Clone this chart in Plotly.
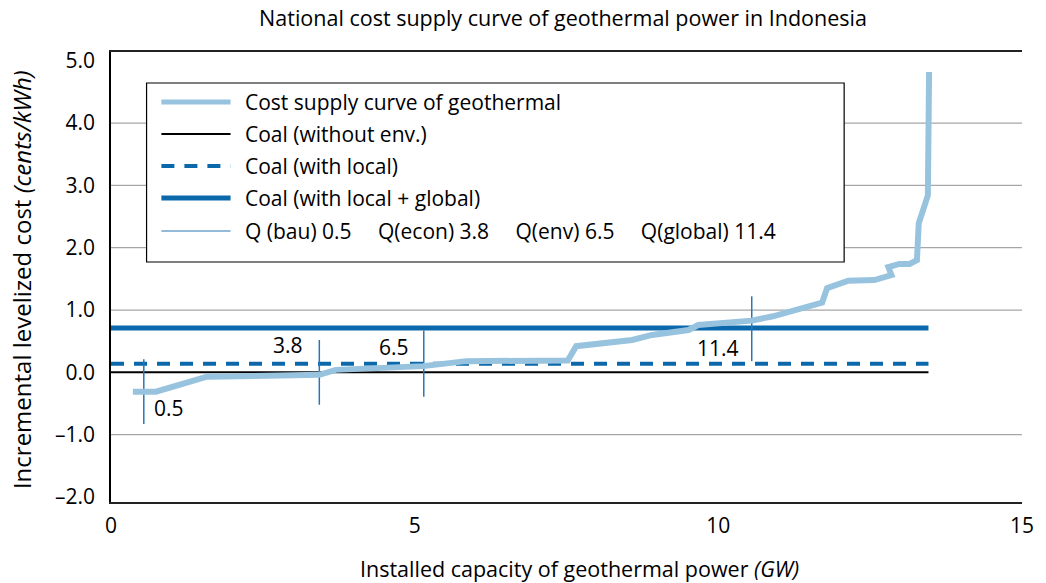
import plotly.graph_objects as go

# Geothermal cost supply curve (GW, cents/kWh)
geo_x = [0.36, 0.74, 1.58, 2.64, 3.43, 3.70, 5.14, 5.85, 7.52, 7.66, 8.58, 8.91,
         9.51, 9.67, 10.55, 10.90, 11.71, 11.79, 12.14, 12.57, 12.85, 12.80, 12.98,
         13.15, 13.27, 13.30, 13.45, 13.47]
geo_y = [-0.31, -0.31, -0.07, -0.06, -0.04, 0.04, 0.10, 0.18, 0.19, 0.42, 0.52, 0.60,
         0.68, 0.76, 0.83, 0.90, 1.12, 1.35, 1.47, 1.48, 1.56, 1.69, 1.74,
         1.74, 1.80, 2.39, 2.84, 4.82]

# Coal reference costs (cents/kWh) and the capacity span they cover
coal_x = [0.0, 13.46]
coal_without_env = 0.0
coal_with_local = 0.14
coal_with_local_global = 0.71

# Q markers: position on the curve, vertical extent, and label text
q_x = [0.54, 3.43, 5.15, 10.55]
q_lo = [-0.83, -0.52, -0.39, 0.18]
q_hi = [0.21, 0.52, 0.67, 1.22]
q_labels = ["0.5", "3.8", "6.5", "11.4"]

y_ticks = [-2, -1, 0, 1, 2, 3, 4, 5]
y_tick_text = ["\u20132.0", "\u20131.0", "0.0", "1.0", "2.0", "3.0", "4.0", "5.0"]
x_ticks = [0, 5, 10, 15]
grid_y = [-1, 1, 2, 3, 4]

FONT = "Open Sans"
LIGHT = "#98c3df"
DARK = "#0b69ab"
QCOL = "#2a76b4"

fig = go.Figure()

fig.add_trace(go.Scatter(x=coal_x, y=[coal_without_env] * 2, mode="lines",
                         line=dict(color="black", width=2), showlegend=False))
fig.add_trace(go.Scatter(x=coal_x, y=[coal_with_local] * 2, mode="lines",
                         line=dict(color=DARK, width=4, dash="13px,10px"), showlegend=False))
fig.add_trace(go.Scatter(x=coal_x, y=[coal_with_local_global] * 2, mode="lines",
                         line=dict(color=DARK, width=5), showlegend=False))

qx, qy = [], []
for x, lo, hi in zip(q_x, q_lo, q_hi):
    qx += [x, x, None]
    qy += [lo, hi, None]
fig.add_trace(go.Scatter(x=qx, y=qy, mode="lines",
                         line=dict(color=QCOL, width=1.5), showlegend=False))

fig.add_trace(go.Scatter(x=geo_x, y=geo_y, mode="lines",
                         line=dict(color=LIGHT, width=6), showlegend=False))

shapes = []
for g in grid_y:
    shapes.append(dict(type="line", xref="x", yref="y", x0=0, x1=15, y0=g, y1=g,
                       line=dict(color="#a6a6a6", width=1.2), layer="below"))

W, H = 1046, 583
L, R, T, B = 111, 1033, 52, 502


def px(x):
    return (x - L) / (R - L)


def py(y):
    return (B - y) / (B - T)


# Legend box
shapes.append(dict(type="rect", xref="paper", yref="paper",
                   x0=px(147), x1=px(853), y0=py(262), y1=py(83),
                   fillcolor="white", line=dict(color="black", width=1.2), layer="above"))

legend_rows = [
    ("Cost supply curve of geothermal", dict(color=LIGHT, width=5)),
    ("Coal (without env.)", dict(color="black", width=2)),
    ("Coal (with local)", dict(color=DARK, width=4, dash="13px,10px")),
    ("Coal (with local + global)", dict(color=DARK, width=5)),
    ("Q (bau) 0.5\u2003 Q(econ) 3.8\u2003 Q(env) 6.5\u2003 Q(global) 11.4", dict(color=QCOL, width=1.2)),
]
row_y = [102, 134, 166, 198, 231]

annotations = []
for (label, ln), yy in zip(legend_rows, row_y):
    shapes.append(dict(type="line", xref="paper", yref="paper",
                       x0=px(162), x1=px(232), y0=py(yy), y1=py(yy),
                       line=ln, layer="above"))
    annotations.append(dict(xref="paper", yref="paper", x=px(245), y=py(yy),
                            text=label, showarrow=False, xanchor="left", yanchor="middle",
                            font=dict(family=FONT, size=21, color="black")))

# Q value labels
q_label_pos = [(153, 408, "left"), (307, 345, "right"), (415, 347, "right"), (749, 348, "right")]
for (xp, yp, anc), t in zip(q_label_pos, q_labels):
    annotations.append(dict(xref="paper", yref="paper", x=px(xp), y=py(yp), text=t,
                            showarrow=False, xanchor=anc, yanchor="middle",
                            font=dict(family=FONT, size=21, color="black")))

# Axis titles
annotations.append(dict(xref="paper", yref="paper", x=px(585), y=py(568),
                        text="Installed capacity of geothermal power <i>(GW)</i>",
                        showarrow=False, xanchor="center", yanchor="middle",
                        font=dict(family=FONT, size=21.5, color="black")))
annotations.append(dict(xref="paper", yref="paper", x=px(20), y=py(280),
                        text="Incremental levelized cost <i>(cents/kWh)</i>",
                        showarrow=False, xanchor="center", yanchor="middle", textangle=-90,
                        font=dict(family=FONT, size=24, color="black")))

fig.update_layout(
    width=W, height=H, autosize=False,
    margin=dict(l=L, r=W - R, t=T, b=H - B, pad=0),
    paper_bgcolor="white", plot_bgcolor="white",
    title=dict(text="National cost supply curve of geothermal power in Indonesia",
               x=563 / W, xanchor="center", y=1 - 18 / H, yanchor="middle",
               font=dict(family=FONT, size=21.5, color="black")),
    xaxis=dict(range=[0, 15], tickvals=x_ticks, showgrid=False, zeroline=False,
               showline=True, mirror=True, linecolor="#222", linewidth=1.5,
               ticks="", ticklabelstandoff=4,
               tickfont=dict(family=FONT, size=21, color="black")),
    yaxis=dict(range=[-2.08, 5.14], tickvals=y_ticks, ticktext=y_tick_text,
               showgrid=False, zeroline=False, showline=True, linecolor="black",
               linewidth=1.5, ticks="", ticklabelstandoff=10,
               tickfont=dict(family=FONT, size=21, color="black")),
    shapes=shapes,
    annotations=annotations,
    showlegend=False,
)

fig.write_html("out.html", config={"responsive": False})
